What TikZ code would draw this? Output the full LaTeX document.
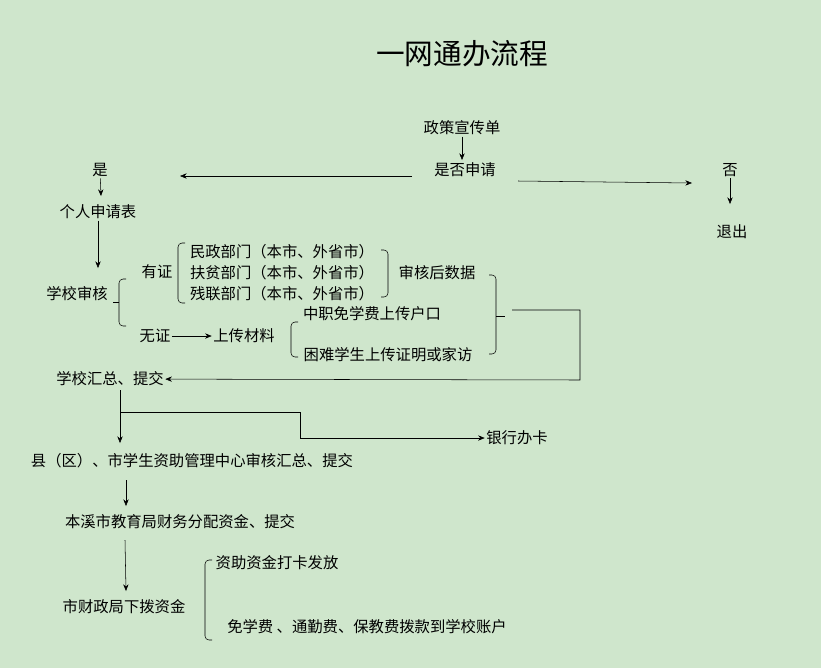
\documentclass[tikz,border=0pt]{standalone}
\usepackage{fontspec}
\setmainfont{Noto Sans CJK SC}
\usetikzlibrary{arrows.meta}
\definecolor{bgreen}{HTML}{CFE6CC}
\begin{document}
\begin{tikzpicture}[x=0.75pt,y=-0.75pt]
        \fill[bgreen] (0,0) rectangle (821,668);
        \useasboundingbox (0,0) rectangle (821,668);

        \node[font=\fontsize{21.5}{24}\selectfont] (title) at (462,54) {一网通办流程};

        \begin{scope}[every node/.style={font=\fontsize{11.5}{13}\selectfont,inner sep=1pt}]
            \node (policy) at (462,128) {政策宣传单};
            \node (apply) at (465,170) {是否申请};
            \node (yes) at (100,170) {是};
            \node (no) at (730,170) {否};
            \node (form) at (98,212) {个人申请表};
            \node (quit) at (732,232) {退出};
            \node (audit) at (77,294) {学校审核};
            \node (cert) at (157,272) {有证};
            \node (minzheng) at (282,252) {民政部门（本市、外省市）};
            \node (fupin) at (282,273) {扶贫部门（本市、外省市）};
            \node (canlian) at (282,294) {残联部门（本市、外省市）};
            \node (data) at (437,273) {审核后数据};
            \node (nocert) at (155,336) {无证};
            \node (upload) at (244,336) {上传材料};
            \node (hukou) at (372,314) {中职免学费上传户口};
            \node (visit) at (388,355) {困难学生上传证明或家访};
            \node (summary) at (110,379) {学校汇总、提交};
            \node (bank) at (517,438) {银行办卡};
            \node (county) at (192,461) {县（区）、市学生资助管理中心审核汇总、提交};
            \node (bureau) at (180,522) {本溪市教育局财务分配资金、提交};
            \node (finance) at (124,607) {市财政局下拨资金};
            \node (card) at (277,563) {资助资金打卡发放};
            \node (fees) at (367,627) {免学费 、通勤费、保教费拨款到学校账户};
        \end{scope}

        \coordinate (join) at (512,310);
        \coordinate (corner) at (580,380);
        \coordinate (down) at (120,390);
        \coordinate (fork) at (120,412);

        \begin{scope}[>={Stealth[length=5pt,width=4pt]}, thin]
            \draw[->] (policy) -- (462,160);
            \draw[->] (412,176) -- (180,176);
            \draw[->] (518,181) -- (692,183);
            \draw[->] (yes) -- (101,196);
            \draw[->] (no) -- (730,204);
            \draw[->] (form) -- (98,268);
            \draw[->] (nocert) -- (upload);
            \draw[->] (join) -| (corner) -- (summary);
            \draw[->] (down) -- (120,443);
            \draw[->] (fork) -- (300,412) -- (300,438) -- (bank);
            \draw[->] (126,480) -- (126,506);
            \draw[->] (125,540) -- (126,591);
        \end{scope}

        % braces
        \begin{scope}[rounded corners=3pt]
            \draw (126,279) -- (119,279) -- (119,326) -- (126,326);
            \draw (185,243) -- (178,243) -- (178,303) -- (185,303);
            \draw (381,250) -- (388,250) -- (388,297) -- (381,297);
            \draw (298,322) -- (291,322) -- (291,357) -- (298,357);
            \draw (489,275) -- (496,275) -- (496,354) -- (489,354);
            \draw (212,560) -- (205,560) -- (205,640) -- (212,640);
        \end{scope}
        \draw (496,316) -- (505,316);
        \draw (119,302) -- (113,302);
\end{tikzpicture}
\end{document}
